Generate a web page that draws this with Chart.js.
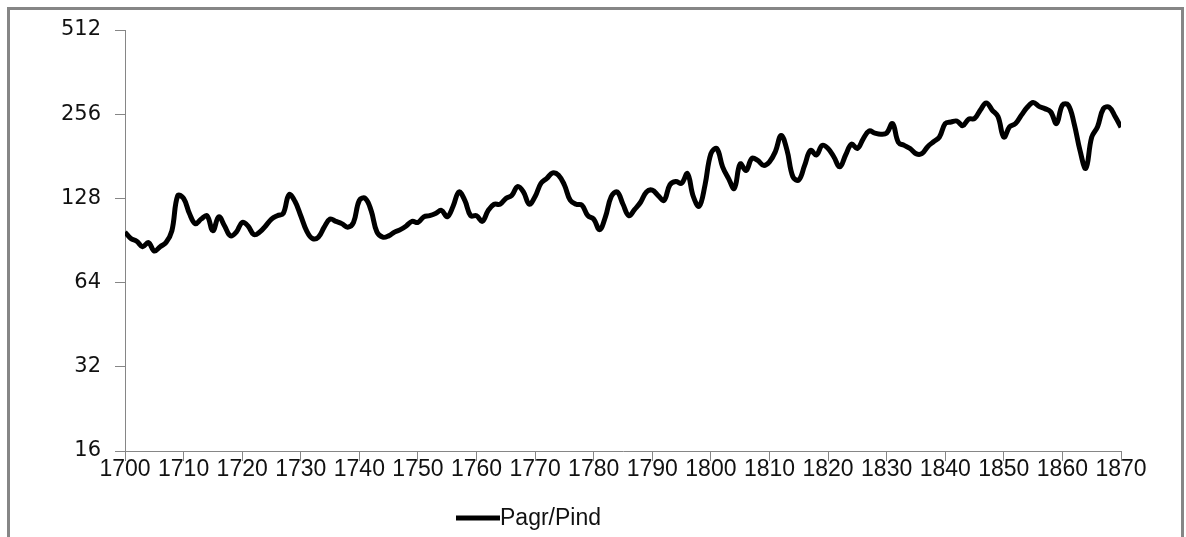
<!DOCTYPE html>
<html>
<head>
<meta charset="utf-8">
<script src="https://cdn.jsdelivr.net/npm/chart.js@4.4.1/dist/chart.umd.min.js"></script>
<style>
  html, body { margin: 0; padding: 0; background: #fff; }
  #wrap { position: relative; width: 1186px; height: 537px; overflow: hidden; }
  #frame { position: absolute; left: 7px; top: 7px; width: 1177px; height: 560px; border: 3px solid #868686; box-sizing: border-box; }
  canvas { position: absolute; left: 0; top: 0; }
</style>
</head>
<body>
<div id="wrap">
  <div id="frame"></div>
  <canvas id="c" width="1186" height="537"></canvas>
</div>
<script>
const seriesName = "Pagr/Pind";
const startYear = 1700;
const endYear = 1870;
const yTickValues = [16, 32, 64, 128, 256, 512];
const xTickStep = 10;
// Pagr/Pind, one value per year 1700..1870
const pagrPind = [
  97, 92, 90, 86, 89, 83, 86, 89, 98, 131,      // 1700-1709
  128, 113, 104, 108, 111, 98, 110, 102, 94, 97, // 1710-1719
  105, 102, 95, 97, 102, 108, 111, 113, 132, 125, // 1720-1729
  111, 98, 92, 93, 101, 108, 106, 104, 101, 105, // 1730-1739
  126, 128, 116, 97, 93, 94, 97, 99, 102, 106,   // 1740-1749
  105, 110, 111, 113, 116, 110, 120, 135, 126, 111, // 1750-1759
  111, 106, 116, 122, 122, 128, 131, 141, 135, 122, // 1760-1769
  130, 145, 151, 158, 155, 143, 126, 122, 121, 111, // 1770-1779
  108, 99, 110, 130, 135, 122, 111, 117, 124, 135, // 1780-1789
  137, 131, 126, 143, 147, 145, 157, 130, 120, 143, // 1790-1799
  185, 193, 166, 151, 139, 170, 161, 178, 175, 168, // 1800-1809
  173, 188, 215, 190, 153, 149, 168, 190, 183, 198, // 1810-1819
  193, 180, 166, 183, 200, 193, 209, 223, 219, 217, // 1820-1829
  219, 237, 203, 198, 193, 185, 185, 196, 204, 212, // 1830-1839
  237, 240, 242, 233, 246, 247, 265, 281, 265, 251, // 1840-1849
  212, 231, 237, 254, 271, 282, 273, 268, 261, 237, // 1850-1859
  276, 276, 237, 190, 164, 212, 231, 268, 271, 251, // 1860-1869
  230                                              // 1870
];
const years = pagrPind.map((_, i) => startYear + i);

const legendPlugin = {
  id: 'customLegend',
  afterDraw(chart) {
    const ctx = chart.ctx;
    const ds = chart.data.datasets[0];
    ctx.save();
    ctx.strokeStyle = ds.borderColor;
    ctx.lineWidth = 5;
    ctx.beginPath();
    ctx.moveTo(456, 518);
    ctx.lineTo(500, 518);
    ctx.stroke();
    ctx.fillStyle = '#111';
    ctx.font = '23px "Liberation Sans", Arial, sans-serif';
    ctx.textBaseline = 'middle';
    ctx.textAlign = 'left';
    ctx.fillText(ds.label, 500, 519);
    ctx.restore();
  }
};

new Chart(document.getElementById('c'), {
  type: 'line',
  data: {
    datasets: [{
      label: seriesName,
      data: years.map((y, i) => ({ x: y, y: pagrPind[i] })),
      borderColor: '#000',
      borderWidth: 5,
      pointRadius: 0,
      tension: 0.4,
      fill: false
    }]
  },
  options: {
    responsive: false,
    animation: false,
    devicePixelRatio: 1,
    layout: { padding: { left: 0, right: 65, top: 30, bottom: 0 } },
    plugins: { legend: { display: false }, tooltip: { enabled: false } },
    scales: {
      x: {
        type: 'linear',
        min: startYear,
        max: endYear,
        afterFit(scale) { scale.height = 86; },
        afterBuildTicks(scale) {
          const t = [];
          for (let v = startYear; v <= endYear; v += xTickStep) t.push({ value: v });
          scale.ticks = t;
        },
        ticks: {
          autoSkip: false, maxRotation: 0, minRotation: 0,
          padding: -5,
          color: '#111',
          font: { family: '"Liberation Sans", Arial, sans-serif', size: 23 },
          callback: v => String(v)
        },
        grid: { drawOnChartArea: false, drawTicks: true, tickLength: 10, color: '#868686', lineWidth: 1 },
        border: { display: true, color: '#868686', width: 1 }
      },
      y: {
        type: 'logarithmic',
        min: 16,
        max: 512,
        afterFit(scale) { scale.width = 125; },
        afterBuildTicks(scale) { scale.ticks = yTickValues.map(v => ({ value: v })); },
        ticks: {
          padding: 14,
          color: '#111',
          font: { family: '"DejaVu Sans", sans-serif', size: 21 },
          callback: v => String(v)
        },
        grid: { drawOnChartArea: false, drawTicks: true, tickLength: 10, color: '#868686', lineWidth: 1 },
        border: { display: true, color: '#868686', width: 1 }
      }
    }
  },
  plugins: [legendPlugin]
});
</script>
</body>
</html>
